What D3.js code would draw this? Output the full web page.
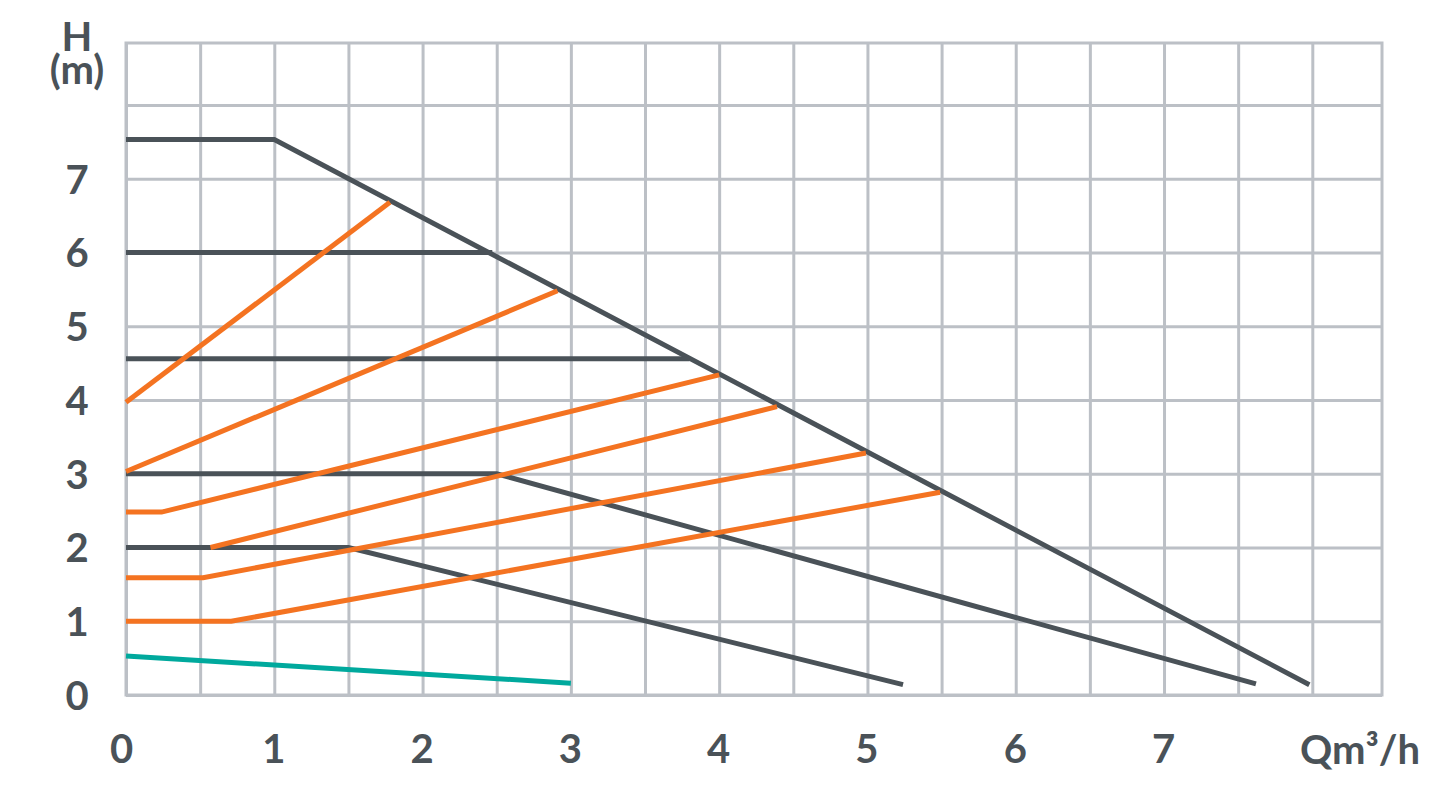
<!DOCTYPE html>
<html>
<head>
<meta charset="utf-8">
<script src="https://cdn.jsdelivr.net/npm/d3@7"></script>
<style>
  html, body { margin: 0; padding: 0; background: #ffffff; }
  svg { display: block; }
  text { font-family: Lato, "Open Sans", sans-serif; font-weight: 700; fill: #4a5258; }
</style>
</head>
<body>
<svg id="chart" width="1440" height="800"></svg>
<script>
// ---- Data ----
const xTickValues = [0, 1, 2, 3, 4, 5, 6, 7];
const yTickValues = [0, 1, 2, 3, 4, 5, 6, 7];
const xGridValues = [0, 0.5, 1, 1.5, 2, 2.5, 3, 3.5, 4, 4.5, 5, 5.5, 6, 6.5, 7, 7.5, 8];
const yGridValues = [0, 1, 2, 3, 4, 5, 6, 7, 8];
const xUnitLabel = "Qm³/h";
const yUnitLabel = ["H", "(m)"];

// Dark grey pump curves [Q, H]
const darkMax   = [[0, 7.53], [1, 7.53], [7.98, 0.14]];
const darkH6    = [[0, 6.0], [2.47, 6.0]];
const darkH45   = [[0, 4.56], [3.80, 4.56]];
const darkH3    = [[0, 3.0], [2.5, 3.0], [7.62, 0.15]];
const darkH2    = [[0, 2.0], [1.5, 2.0], [5.24, 0.14]];
// Orange curves
const orangeA = [[0, 3.97], [1.78, 6.68]];
const orangeB = [[0, 3.03], [2.91, 5.48]];
const orangeC = [[0, 2.48], [0.24, 2.48], [4.0, 4.34]];
const orangeD = [[0.57, 2.0], [4.39, 3.91]];
const orangeE = [[0, 1.59], [0.52, 1.59], [4.99, 3.28]];
const orangeF = [[0, 1.0], [0.71, 1.0], [5.49, 2.75]];
// Teal curve
const tealLine = [[0, 0.53], [3.0, 0.16]];

const darkSeries = [darkMax, darkH6, darkH45, darkH3, darkH2];
const orangeSeries = [orangeA, orangeB, orangeC, orangeD, orangeE, orangeF];
const tealSeries = [tealLine];

// ---- Layout ----
const pLeft = 126, pRight = 1382, pTop = 43, pBottom = 695;
const xMax = 8.47, yMax = 8.84;
const gridColor = "#bcc0c6";
const darkColor = "#4a5258";
const orangeColor = "#f47321";
const tealColor = "#00a99d";

const svg = d3.select("#chart");
const x = d3.scaleLinear().domain([0, xMax]).range([pLeft, pRight]);
const y = d3.scaleLinear().domain([0, yMax]).range([pBottom, pTop]);

// Grid via axes
const gx = svg.append("g")
  .attr("transform", `translate(0,${pBottom})`)
  .call(d3.axisBottom(x).tickValues(xGridValues).tickSize(-(pBottom - pTop)).tickFormat(""));
gx.select(".domain").remove();
gx.selectAll(".tick line").attr("stroke", gridColor).attr("stroke-width", 3);

const gy = svg.append("g")
  .attr("transform", `translate(${pLeft},0)`)
  .call(d3.axisLeft(y).tickValues(yGridValues).tickSize(-(pRight - pLeft)).tickFormat(""));
gy.select(".domain").remove();
gy.selectAll(".tick line").attr("stroke", gridColor).attr("stroke-width", 3);

svg.append("rect")
  .attr("x", pLeft).attr("y", pTop)
  .attr("width", pRight - pLeft).attr("height", pBottom - pTop)
  .attr("fill", "none").attr("stroke", gridColor).attr("stroke-width", 3);

// Lines
const line = d3.line().x(d => x(d[0])).y(d => y(d[1]));
function drawSeries(series, color) {
  svg.append("g").selectAll("path").data(series).join("path")
    .attr("d", line)
    .attr("fill", "none")
    .attr("stroke", color)
    .attr("stroke-width", 5)
    .attr("stroke-linejoin", "miter")
    .attr("stroke-linecap", "butt");
}
drawSeries(tealSeries, tealColor);
drawSeries(darkSeries, darkColor);
drawSeries(orangeSeries, orangeColor);

// Tick labels via axes
const ax = svg.append("g")
  .attr("transform", `translate(0,${pBottom})`)
  .call(d3.axisBottom(x).tickValues(xTickValues).tickSize(0).tickPadding(0).tickFormat(d3.format("d")));
ax.select(".domain").remove();
ax.selectAll(".tick text")
  .attr("y", 68)
  .attr("dy", null)
  .style("font-size", "40px")
  .style("font-family", "Lato, sans-serif")
  .style("font-weight", "700")
  .attr("fill", darkColor)
  .attr("dx", d => d === 0 ? -5 : -1);

const ay = svg.append("g")
  .attr("transform", `translate(${pLeft},0)`)
  .call(d3.axisLeft(y).tickValues(yTickValues).tickSize(0).tickPadding(0).tickFormat(d3.format("d")));
ay.select(".domain").remove();
ay.selectAll(".tick text")
  .attr("x", -49)
  .attr("dy", "0.36em")
  .attr("text-anchor", "middle")
  .style("font-size", "40px")
  .style("font-family", "Lato, sans-serif")
  .style("font-weight", "700")
  .attr("fill", darkColor);

// Unit labels
svg.append("text")
  .attr("x", 1360).attr("y", 764)
  .attr("text-anchor", "middle")
  .style("font-size", "40px")
  .text(xUnitLabel);

const yLab = svg.append("text")
  .attr("text-anchor", "middle")
  .style("font-size", "40px");
yLab.append("tspan").attr("x", 77).attr("y", 51).text(yUnitLabel[0]);
yLab.append("tspan").attr("x", 77).attr("y", 84).text(yUnitLabel[1]);
</script>
</body>
</html>
